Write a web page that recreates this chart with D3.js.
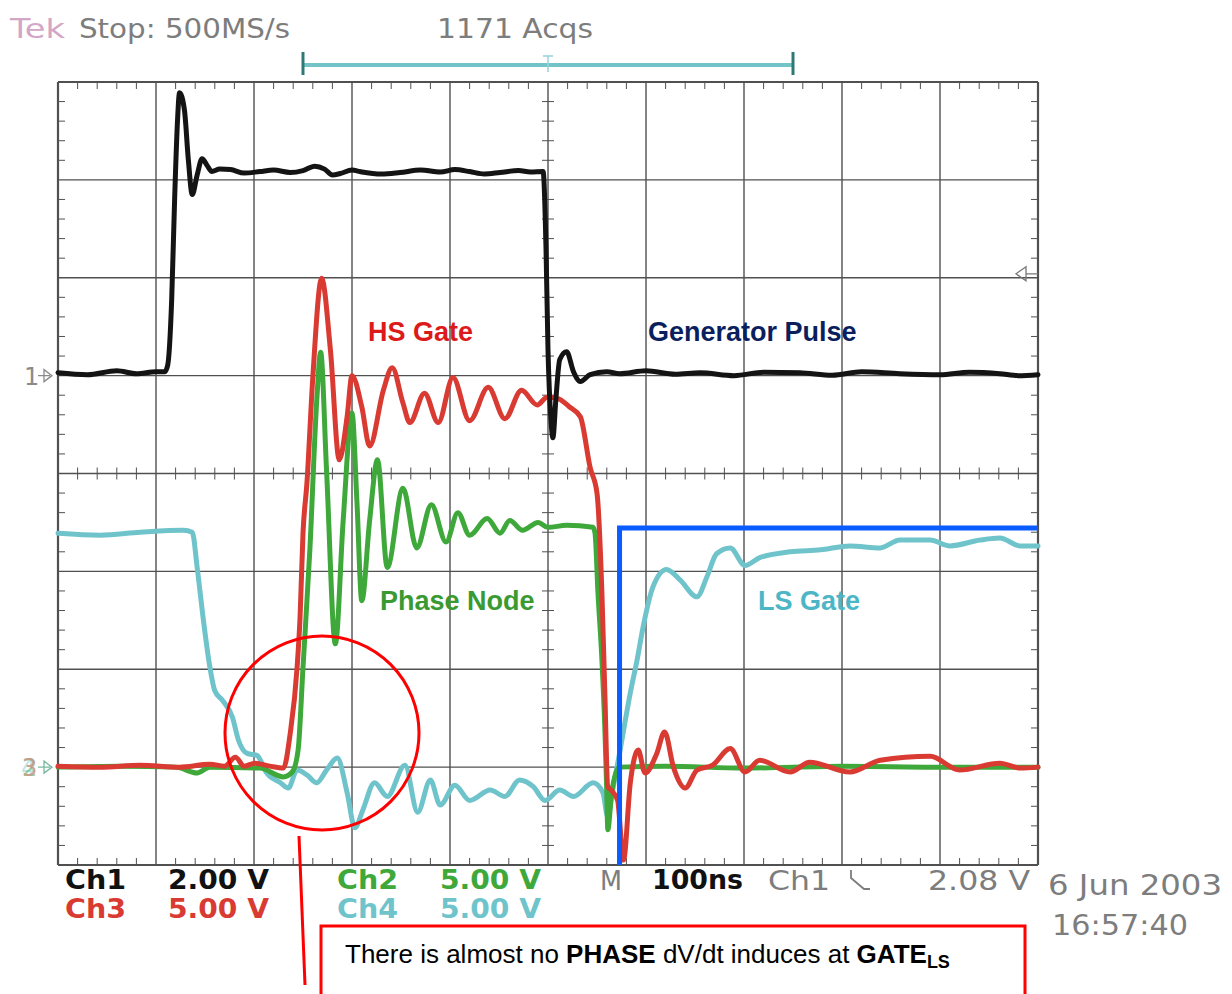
<!DOCTYPE html>
<html lang="en">
<head>
<meta charset="UTF-8">
<title>scope capture</title>
<script src="https://cdn.jsdelivr.net/npm/d3@7"></script>
<style>
    body{ margin:0; background:#fff; }
    svg{ display:block; }
    .scope{ font-family:"DejaVu Sans", sans-serif; }
    .bold{ font-family:"DejaVu Sans Condensed", "DejaVu Sans", sans-serif; font-weight:bold; }
    .label{ font-family:"Liberation Sans", Arial, sans-serif; font-weight:bold; font-size:27px; }
</style>
</head>
<body>
<svg id="fig" width="1232" height="994"></svg>
<script>
// time in ns (100 ns/div), values in volts
let ch1 = [[-500,0.06],[-470,0.02],[-440,0.1],[-420,0.04],[-400,0.08],[-391,0.08],[-388,0.22],[-384,1.55],[-381,3.6],[-378,5.23],[-376,5.78],
    [-371,5.43],[-367,4.41],[-363,3.7],[-358,4.1],[-353,4.43],[-348,4.3],[-343,4.17],[-335,4.22],[-324,4.21],[-310,4.14],[-294,4.17],
    [-280,4.2],[-263,4.15],[-250,4.19],[-238,4.28],[-228,4.22],[-220,4.1],[-212,4.13],[-200,4.2],[-192,4.17],[-170,4.12],[-151,4.15],
    [-130,4.2],[-110,4.16],[-95,4.21],[-80,4.17],[-65,4.12],[-49,4.15],[-30,4.19],[-18,4.16],[-5,4.17],[-2,2.57],[0,0.53],[3,-0.9],
    [5,-1.27],[8,-0.49],[12,0.33],[19,0.49],[26,0.08],[33,-0.12],[43,0.02],[60,0.08],[73,0.04],[100,0.1],[130,0.03],[155,0.06],
    [190,0.0],[220,0.07],[257,0.06],[290,0.01],[320,0.08],[359,0.04],[400,0.02],[430,0.07],[461,0.04],[480,0.0],[500,0.02]]

let ch3 = [[-500,0.05],[-457,0.0],[-416,0.1],[-376,0.0],[-345,0.15],[-330,0.05],[-319,0.5],[-310,0.05],[-299,0.2],[-284,0.05],
    [-270,-0.05],[-263,1.74],[-256,5.11],[-253,7.66],[-250,11.95],[-246,14.5],[-240,19.9],[-231,24.97],[-222,21.3],[-213,15.7],
    [-205,17.9],[-200,20.0],[-190,18.4],[-182,16.4],[-168,19.25],[-159,20.4],[-148,18.6],[-141,17.6],[-126,19.1],[-112,17.6],
    [-97,19.9],[-80,17.7],[-61,19.4],[-44,17.8],[-27,19.25],[-11,18.5],[-1,18.9],[9,18.85],[22,18.4],[33,17.9],[43,15.3],
    [50,14.0],[55,8.9],[58,3.8],[61,-1.0],[65,-1.2],[71,-1.7],[77,-4.75],[84,-0.8],[92,0.87],[99,-0.3],[111,0.7],[119,1.8],
    [128,0.0],[140,-1.07],[152,-0.15],[168,0.1],[186,0.95],[201,-0.25],[216,0.35],[247,-0.25],[267,0.25],[308,-0.25],[339,0.35],
    [390,0.55],[420,-0.15],[461,0.2],[482,-0.05],[500,0.0]]

let ch2 = [[-500,0.0],[-437,0.05],[-380,0.0],[-358,-0.3],[-345,0.0],[-294,-0.05],[-270,-0.5],[-261,-0.25],[-255,0.87],[-250,5.1],
    [-243,11.1],[-236,18.7],[-232,21.2],[-226,15.2],[-217,6.3],[-209,12.6],[-200,18.1],[-195,13.6],[-190,8.5],[-182,12.6],
    [-174,15.7],[-164,10.2],[-148,14.25],[-134,11.2],[-119,13.4],[-104,11.5],[-92,13.0],[-80,11.85],[-62,12.7],[-49,11.95],
    [-39,12.6],[-26,12.1],[-10,12.5],[0,12.25],[19,12.35],[46,12.25],[48,11.95],[51,8.9],[55,5.5],[58,2.0],[60,-1.3],[61,-3.2],
    [65,-1.3],[73,0.0],[120,0.05],[200,-0.05],[300,0.05],[400,0.0],[500,0.0]]

let ch4 = [[-500,11.95],[-457,11.85],[-416,12.0],[-372,12.1],[-363,12.0],[-358,10.2],[-352,7.66],[-345,5.1],[-340,3.9],[-332,3.4],
    [-322,2.55],[-316,1.4],[-307,0.7],[-297,0.6],[-287,-0.3],[-273,-0.8],[-265,-1.07],[-256,-0.15],[-246,-0.4],[-236,-0.8],
    [-226,-0.15],[-215,0.46],[-205,-1.3],[-197,-3.1],[-189,-2.2],[-177,-0.8],[-164,-1.5],[-146,0.1],[-133,-2.3],[-120,-0.66],
    [-110,-1.94],[-95,-0.92],[-80,-1.7],[-59,-1.17],[-44,-1.5],[-29,-0.66],[-15,-1.0],[-3,-1.7],[12,-1.17],[26,-1.5],[46,-0.8],
    [56,-1.3],[61,-2.55],[66,-1.17],[73,0.7],[84,3.8],[91,5.5],[97,7.15],[107,9.2],[121,10.1],[135,9.55],[152,8.7],[162,9.7],
    [172,10.9],[186,11.2],[201,10.3],[216,10.7],[247,11.0],[278,11.1],[308,11.3],[339,11.2],[359,11.6],[390,11.6],[410,11.3],
    [441,11.6],[461,11.7],[482,11.3],[500,11.3]]

let chNames = ["Ch1", "Ch2", "Ch3", "Ch4"]
let voltsPerDiv = [2, 5, 5, 5]
let groundDiv = [1, -3, -3, -3]
let triggerLevel = 2.08
let traceLabels = ["Generator Pulse", "Phase Node", "HS Gate", "LS Gate"]

let svg = d3.select("#fig")
let x = d3.scaleLinear().domain([-500, 500]).range([58, 1038])
let ydiv = d3.scaleLinear().domain([-4, 4]).range([865, 82])

// ---- graticule
let grid = svg.append("g").attr("stroke", "#505050")
grid.selectAll(".v").data(d3.range(-500, 501, 100)).enter().append("line")
    .attr("x1", d => x(d)).attr("x2", d => x(d)).attr("y1", ydiv(4)).attr("y2", ydiv(-4))
    .attr("stroke-width", d => Math.abs(d) === 500 ? 2.2 : 1.4)
grid.selectAll(".h").data(d3.range(-4, 5, 1)).enter().append("line")
    .attr("y1", d => ydiv(d)).attr("y2", d => ydiv(d)).attr("x1", x(-500)).attr("x2", x(500))
    .attr("stroke-width", d => Math.abs(d) === 4 ? 2.2 : 1.4)

let minorT = d3.range(-500, 501, 20).filter(d => d % 100 !== 0)
let minorV = d3.range(-20, 21, 1).map(d => d / 5).filter(d => d % 1 !== 0)
grid.selectAll(".tt").data(minorT).enter().append("line")
    .attr("x1", d => x(d)).attr("x2", d => x(d)).attr("y1", ydiv(4)).attr("y2", ydiv(4) + 7)
grid.selectAll(".tb").data(minorT).enter().append("line")
    .attr("x1", d => x(d)).attr("x2", d => x(d)).attr("y1", ydiv(-4)).attr("y2", ydiv(-4) - 7)
grid.selectAll(".tc").data(minorT).enter().append("line")
    .attr("x1", d => x(d)).attr("x2", d => x(d)).attr("y1", ydiv(0) - 6).attr("y2", ydiv(0) + 6)
grid.selectAll(".tl").data(minorV).enter().append("line")
    .attr("y1", d => ydiv(d)).attr("y2", d => ydiv(d)).attr("x1", x(-500)).attr("x2", x(-500) + 7)
grid.selectAll(".tr").data(minorV).enter().append("line")
    .attr("y1", d => ydiv(d)).attr("y2", d => ydiv(d)).attr("x1", x(500)).attr("x2", x(500) - 7)
grid.selectAll(".tm").data(minorV).enter().append("line")
    .attr("y1", d => ydiv(d)).attr("y2", d => ydiv(d)).attr("x1", x(0) - 6).attr("x2", x(0) + 6)

// ---- traces
function yOf(ch){
    return v => ydiv(groundDiv[ch] + v / voltsPerDiv[ch])
}
function trace(data, ch, color){
    let fy = yOf(ch)
    let line = d3.line().curve(d3.curveMonotoneX).x(d => x(d[0])).y(d => fy(d[1]))
    svg.append("path").datum(data)
        .attr("d", line)
        .attr("fill", "none")
        .attr("stroke", color)
        .attr("stroke-width", 5)
        .attr("stroke-linejoin", "round")
        .attr("stroke-linecap", "round")
}
trace(ch4, 3, "#6fc4cc")
trace(ch2, 1, "#3ea83a")
trace(ch3, 2, "#d93a32")
trace(ch1, 0, "#141414")

// ---- horizontal position bracket on top
let br = svg.append("g")
br.append("line").attr("x1", x(-250)).attr("x2", x(250)).attr("y1", 65).attr("y2", 65)
    .attr("stroke", "#72c4c8").attr("stroke-width", 4)
br.selectAll(".cap").data([-250, 250]).enter().append("line")
    .attr("x1", d => x(d)).attr("x2", d => x(d)).attr("y1", 52).attr("y2", 75)
    .attr("stroke", "#2f7878").attr("stroke-width", 3)
br.append("path").attr("d", `M${x(0) - 5},56 H${x(0) + 5} M${x(0)},56 V72`)
    .attr("stroke", "#9ad4d8").attr("stroke-width", 1.5).attr("fill", "none")

// ---- ground markers and trigger level
function arrow(y){
    return `M38,${y} H50 M44,${y - 6} L52,${y} L44,${y + 6} Z`
}
svg.append("text").attr("class", "scope").attr("x", 24).attr("y", ydiv(groundDiv[0]) + 9)
    .attr("font-size", 24).attr("fill", "#8a8a8a").text("1")
svg.append("path").attr("d", arrow(ydiv(groundDiv[0]))).attr("fill", "none").attr("stroke", "#8a8a8a").attr("stroke-width", 1.3)
let gy = ydiv(groundDiv[1])
svg.append("text").attr("class", "scope").attr("x", 21).attr("y", gy + 9).attr("font-size", 24)
    .attr("fill", "#6fc4cc").attr("opacity", 0.45).text("4")
svg.append("text").attr("class", "scope").attr("x", 22).attr("y", gy + 9).attr("font-size", 24)
    .attr("fill", "#4fa84a").attr("opacity", 0.5).text("2")
svg.append("text").attr("class", "scope").attr("x", 22).attr("y", gy + 9).attr("font-size", 24)
    .attr("fill", "#c99a88").attr("opacity", 0.9).text("3")
svg.append("path").attr("d", arrow(gy)).attr("fill", "none").attr("stroke", "#7ab8a0").attr("stroke-width", 1.3)

let ty = yOf(0)(triggerLevel)
svg.append("path").attr("d", `M1038,${ty} H1026 M1026,${ty - 7} L1016,${ty} L1026,${ty + 7} Z`)
    .attr("fill", "none").attr("stroke", "#777").attr("stroke-width", 1.3)

// ---- scope header and footer text
let gray = "#7d7d7d"
function stxt(cls, tx, ty, size, fill, str, len){
    let t = svg.append("text").attr("class", cls).attr("x", tx).attr("y", ty)
        .attr("font-size", size).attr("fill", fill).text(str)
    if (len) t.attr("textLength", len).attr("lengthAdjust", "spacingAndGlyphs")
    return t
}
stxt("scope", 10, 38, 27, "#d4a6c6", "Tek", 55)
stxt("scope", 79, 38, 27, gray, "Stop: 500MS/s", 211)
stxt("scope", 437, 38, 27, gray, "1171 Acqs", 156)

let chColors = ["#111", "#3ea83a", "#d93a32", "#6fc4cc"]
let footer = [[0, 65, 168, 889], [2, 65, 168, 918], [1, 337, 440, 889], [3, 337, 440, 918]]
footer.forEach(f => {
    let ch = f[0]
    stxt("bold", f[1], f[3], 27, chColors[ch], chNames[ch], 61)
    stxt("bold", f[2], f[3], 27, chColors[ch], voltsPerDiv[ch].toFixed(2) + " V", 101)
})
stxt("scope", 600, 890, 27, gray, "M", 22)
stxt("bold", 652, 889, 27, "#111", "100ns", 91)
stxt("scope", 768, 890, 27, gray, chNames[0], 62)
svg.append("path").attr("d", "M851,870 V878 L864,889 H870").attr("fill", "none").attr("stroke", gray).attr("stroke-width", 1.8)
stxt("scope", 928, 890, 27, gray, triggerLevel.toFixed(2) + " V", 102)
stxt("scope", 1048, 895, 28, gray, "6 Jun 2003", 174)
stxt("scope", 1052, 935, 28, gray, "16:57:40", 136)

// ---- annotations
let labelPos = [[648, 341, "#0b1f5e"], [380, 610, "#3a9a32"], [368, 341, "#dd1a1a"], [758, 610, "#4cb6c6"]]
labelPos.forEach((p, i) => {
    svg.append("text").attr("class", "label").attr("x", p[0]).attr("y", p[1]).attr("fill", p[2]).text(traceLabels[i])
})

// LS gate marker
svg.append("path").attr("d", `M${x(73)},${ydiv(-4)} V528 H${x(500)}`)
    .attr("fill", "none").attr("stroke", "#0a5cff").attr("stroke-width", 5)

// highlight circle and callout
svg.append("circle").attr("cx", 322).attr("cy", 733).attr("r", 97)
    .attr("fill", "none").attr("stroke", "#ff0000").attr("stroke-width", 3)
svg.append("line").attr("x1", 299).attr("y1", 836).attr("x2", 305).attr("y2", 985)
    .attr("stroke", "#ff0000").attr("stroke-width", 3)
svg.append("rect").attr("x", 321).attr("y", 926).attr("width", 704).attr("height", 90)
    .attr("fill", "#fff").attr("stroke", "#ff0000").attr("stroke-width", 3)

let note = svg.append("text").attr("x", 345).attr("y", 963)
    .attr("font-family", "Liberation Sans, Arial, sans-serif").attr("font-size", 26).attr("fill", "#000")
note.append("tspan").text("There is almost no ")
note.append("tspan").attr("font-weight", "bold").text("PHASE")
note.append("tspan").text(" dV/dt induces at ")
note.append("tspan").attr("font-weight", "bold").text("GATE")
note.append("tspan").attr("font-weight", "bold").attr("font-size", 18).attr("dy", 5).text("LS")
</script>
</body>
</html>
